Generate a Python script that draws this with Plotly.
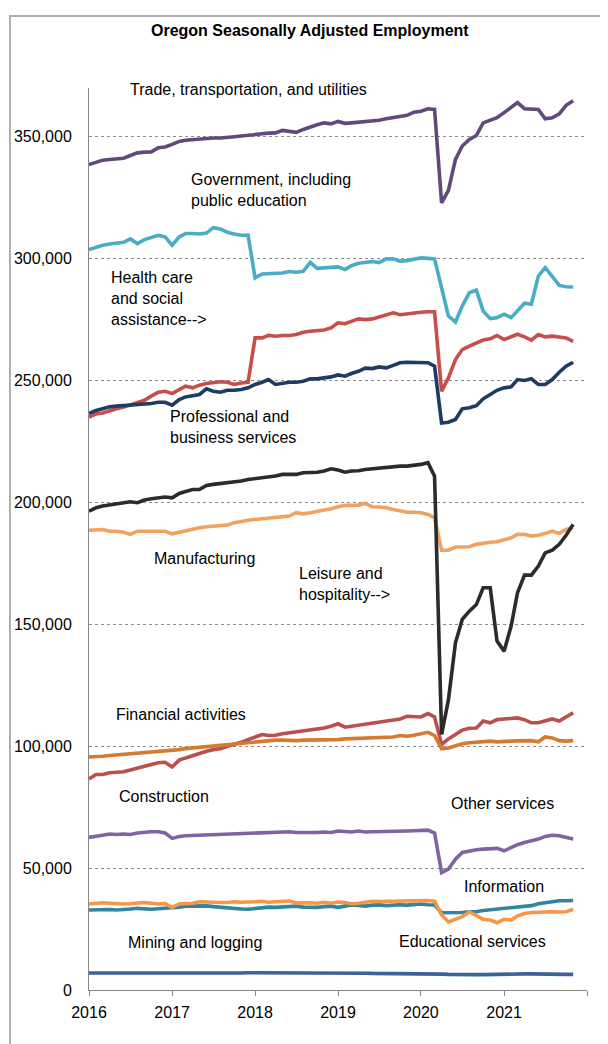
import plotly.graph_objects as go
import pandas as pd

months = pd.date_range("2016-01-01", periods=71, freq="MS")

trade = [338.6, 339.6, 340.4, 340.7, 340.8, 341.2, 342.3, 343.4, 343.7, 343.8,
         345.5, 345.8, 346.9, 348.1, 348.6, 348.9, 348.9, 349.2, 349.5, 349.5,
         349.9, 350.0, 350.3, 350.7, 351.1, 351.2, 351.5, 351.6, 352.6, 352.3,
         351.8, 353.0, 354.1, 354.9, 355.7, 355.3, 356.3, 355.5, 355.7, 356.0,
         356.4, 356.4, 356.8, 357.4, 357.8, 358.1, 358.8, 360.1, 360.5, 361.5,
         361.2, 322.9, 328.0, 340.7, 346.2, 348.9, 350.5, 355.7, 356.8, 357.8,
         359.9, 362.3, 364.0, 361.5, 361.5, 361.2, 357.4, 357.8, 359.4, 362.9, 364.8]

gov = [303.7, 304.7, 305.5, 306.0, 306.2, 306.7, 308.1, 306.2, 307.8, 308.6,
       309.6, 308.9, 305.5, 308.9, 310.3, 310.3, 310.1, 310.5, 312.7, 312.2,
       310.8, 310.1, 309.6, 309.7, 292.1, 293.7, 293.8, 294.0, 294.1, 294.7,
       294.4, 294.8, 298.5, 296.0, 296.3, 296.4, 296.6, 295.5, 297.1, 298.1,
       298.6, 298.8, 298.4, 299.9, 299.9, 299.0, 299.2, 299.6, 300.3, 300.1,
       299.9, 288.0, 276.5, 274.0, 280.6, 286.0, 287.1, 278.5, 275.4, 275.8,
       277.2, 275.8, 278.5, 281.7, 281.3, 292.9, 296.3, 292.9, 289.0, 288.5, 288.4]

health = [235.0, 236.3, 236.7, 237.7, 238.4, 239.1, 240.0, 240.8, 241.9, 243.6,
          245.2, 245.6, 244.7, 246.3, 247.7, 247.0, 248.1, 248.8, 249.0, 249.5,
          249.3, 248.4, 249.0, 249.3, 267.5, 267.5, 268.5, 268.2, 268.5, 268.5,
          268.9, 269.8, 270.2, 270.4, 270.7, 271.6, 273.7, 273.3, 274.4, 275.3,
          275.0, 275.3, 276.1, 277.1, 277.8, 277.0, 277.4, 277.8, 278.0, 278.2,
          278.2, 245.6, 251.1, 258.6, 262.7, 264.1, 265.2, 266.6, 267.1, 268.5,
          266.8, 267.9, 269.0, 267.9, 266.6, 268.9, 267.9, 268.2, 267.9, 267.5, 266.1]

prof = [236.5, 237.7, 238.4, 239.2, 239.5, 239.7, 240.2, 240.4, 240.6, 240.6,
        241.1, 241.1, 239.9, 242.2, 243.3, 243.8, 244.3, 246.6, 245.6, 245.2,
        246.0, 246.0, 246.3, 247.0, 248.4, 249.3, 250.4, 248.4, 249.0, 249.3,
        249.3, 249.7, 250.7, 250.7, 251.1, 251.5, 252.3, 251.8, 252.9, 253.8,
        255.1, 254.9, 255.6, 255.2, 256.2, 257.3, 257.5, 257.5, 257.5, 257.3,
        255.9, 232.6, 232.9, 234.0, 238.4, 238.8, 239.7, 242.5, 244.3, 246.0,
        247.0, 247.4, 250.4, 250.0, 250.7, 248.4, 248.4, 250.4, 253.4, 255.9, 257.5]

leisure = [196.4, 197.8, 198.5, 198.9, 199.2, 199.6, 200.3, 199.9, 201.0, 201.5,
           201.9, 202.2, 201.9, 203.7, 204.5, 205.3, 205.3, 207.0, 207.4, 207.7,
           208.1, 208.5, 208.8, 209.4, 209.7, 210.0, 210.4, 210.8, 211.5, 211.5,
           211.5, 212.2, 212.2, 212.4, 212.9, 213.8, 213.3, 212.4, 212.9, 213.0,
           213.5, 213.8, 214.2, 214.2, 214.5, 214.9, 214.9, 215.2, 215.6, 216.3,
           210.8, 104.8, 119.0, 142.4, 152.0, 155.4, 158.1, 165.0, 165.0, 143.1,
           139.0, 149.3, 162.9, 170.2, 170.2, 173.9, 179.3, 180.4, 182.8, 186.5, 191.0]

mfg = [188.6, 188.6, 188.9, 188.2, 188.2, 187.8, 186.9, 188.2, 188.2, 188.2,
       188.5, 188.2, 187.1, 187.8, 188.2, 188.9, 189.6, 190.0, 190.3, 190.3,
       190.7, 191.7, 192.3, 192.7, 193.0, 193.3, 193.7, 193.8, 194.0, 194.4,
       195.8, 195.3, 195.8, 196.3, 196.7, 197.4, 198.2, 198.8, 198.8, 198.9,
       199.6, 198.2, 198.1, 197.8, 197.1, 196.7, 196.0, 196.0, 195.8, 195.1,
       193.7, 180.4, 180.4, 181.7, 181.8, 181.8, 182.8, 183.4, 183.7, 183.9,
       184.8, 185.5, 186.9, 186.9, 186.2, 186.5, 187.3, 188.2, 187.3, 188.9, 189.6]

fin = [95.6, 95.6, 95.9, 96.2, 96.4, 96.7, 97.0, 97.3, 97.5, 97.7,
       97.9, 98.2, 98.4, 98.6, 99.0, 99.3, 99.6, 99.9, 100.1, 100.3,
       100.5, 100.8, 101.4, 101.6, 101.9, 102.3, 102.5, 102.5, 102.5, 102.3,
       102.3, 102.5, 102.5, 102.5, 102.5, 102.7, 102.7, 103.0, 103.1, 103.3,
       103.3, 103.4, 103.6, 103.7, 103.8, 104.4, 104.1, 104.5, 105.2, 105.7,
       104.4, 98.9, 99.3, 100.3, 101.0, 101.4, 101.6, 102.1, 102.1, 101.8,
       101.8, 102.1, 102.2, 102.2, 102.3, 101.8, 103.8, 103.4, 102.3, 102.1, 102.3]

cons = [86.6, 88.4, 88.4, 89.1, 89.3, 89.5, 90.2, 91.1, 91.8, 92.5,
        93.2, 93.4, 91.5, 94.3, 95.2, 96.2, 97.0, 97.9, 98.6, 99.0,
        100.0, 100.7, 101.6, 102.7, 103.8, 104.8, 104.4, 104.5, 105.1, 105.5,
        105.7, 106.2, 106.6, 107.1, 107.5, 108.2, 109.2, 107.8, 108.2, 108.5,
        108.9, 109.3, 109.8, 110.3, 110.7, 111.2, 112.3, 112.0, 112.0, 113.4,
        112.0, 100.7, 103.0, 104.8, 106.6, 107.4, 107.5, 110.3, 109.6, 110.9,
        111.2, 111.2, 111.6, 110.9, 109.6, 109.6, 110.3, 111.2, 110.3, 112.0, 113.7]

other = [62.6, 62.9, 63.5, 64.0, 63.8, 64.0, 63.8, 64.4, 64.8, 64.9,
         64.9, 64.4, 62.2, 63.0, 63.3, 63.4, 63.7, 63.8, 64.0, 64.1,
         64.1, 64.0, 64.1, 64.4, 64.4, 64.5, 64.5, 64.6, 64.8, 64.9,
         64.6, 64.5, 64.6, 64.6, 64.8, 64.6, 65.2, 64.8, 64.8, 65.2,
         64.8, 64.9, 64.9, 65.0, 65.0, 65.0, 65.2, 65.3, 65.6, 65.6,
         64.4, 48.2, 49.6, 53.7, 56.4, 57.1, 57.5, 57.8, 57.9, 58.1,
         57.1, 58.5, 59.6, 60.5, 61.2, 61.9, 63.0, 63.5, 63.3, 62.6, 61.9]

info = [32.8, 32.9, 33.1, 33.0, 32.8, 32.9, 33.2, 33.5, 33.3, 33.1,
        33.3, 33.5, 33.5, 34.0, 34.4, 34.5, 34.7, 34.5, 34.2, 33.9,
        33.6, 33.4, 33.2, 33.1, 33.4, 33.8, 34.0, 33.9, 34.0, 34.3,
        34.4, 34.0, 33.8, 33.9, 34.2, 34.4, 33.9, 34.5, 34.9, 34.7,
        34.4, 34.8, 34.9, 34.6, 34.9, 35.0, 34.8, 35.2, 35.3, 35.0,
        34.9, 31.7, 31.7, 31.7, 31.8, 32.1, 32.1, 32.6, 32.9, 33.1,
        33.2, 33.5, 33.7, 34.2, 34.6, 35.4, 35.9, 36.3, 36.6, 36.6, 36.7]

edu = [35.3, 35.6, 35.8, 35.6, 35.3, 35.3, 35.4, 35.6, 35.9, 35.6,
       35.3, 35.5, 33.9, 35.3, 35.5, 35.6, 36.2, 36.0, 35.8, 35.9,
       35.9, 36.2, 36.0, 36.0, 36.2, 36.4, 36.0, 36.2, 36.3, 36.5,
       35.7, 35.9, 35.8, 35.6, 36.0, 35.6, 36.1, 35.9, 35.4, 35.6,
       36.1, 36.4, 36.3, 36.4, 36.4, 36.5, 36.6, 36.6, 36.6, 36.7,
       36.4, 30.8, 27.9, 29.0, 30.1, 32.1, 30.4, 29.0, 28.7, 27.6,
       29.0, 28.7, 30.4, 31.4, 31.8, 32.0, 32.1, 32.1, 32.0, 32.1, 33.1]

mining = [7.0, 7.0, 7.0, 6.9, 6.9, 6.9, 6.9, 6.9, 6.8, 6.8,
          6.8, 6.8, 6.8, 6.7, 6.8, 6.9, 6.9, 6.9, 6.8, 6.8,
          6.9, 6.9, 7.0, 7.1, 7.1, 7.1, 7.2, 7.2, 7.2, 7.2,
          7.1, 7.1, 7.0, 7.0, 7.0, 7.0, 7.0, 7.0, 6.9, 6.9,
          6.9, 6.8, 6.8, 6.8, 6.7, 6.7, 6.7, 6.6, 6.6, 6.6,
          6.6, 6.5, 6.4, 6.3, 6.3, 6.4, 6.3, 6.3, 6.4, 6.5,
          6.5, 6.5, 6.5, 6.6, 6.6, 6.5, 6.5, 6.5, 6.5, 6.4, 6.4]

series = [
    ("Mining and logging", mining, "#3A6399"),
    ("Information", info, "#31859C"),
    ("Educational services", edu, "#F79646"),
    ("Other services", other, "#8064A2"),
    ("Construction", cons, "#B9504C"),
    ("Financial activities", fin, "#D57B30"),
    ("Manufacturing", mfg, "#F0A262"),
    ("Health care and social assistance", health, "#C84E4A"),
    ("Professional and business services", prof, "#1F3B63"),
    ("Government, including public education", gov, "#4BACC6"),
    ("Trade, transportation, and utilities", trade, "#604A7B"),
    ("Leisure and hospitality", leisure, "#2B2B2B"),
]

year_ticks = ["2016", "2017", "2018", "2019", "2020", "2021", ""]
year_vals = [f"{y}-01-01" if y else "2022-01-01" for y in year_ticks]
y_ticks = [0, 50000, 100000, 150000, 200000, 250000, 300000, 350000]

fig = go.Figure()
for name, vals, color in series:
    fig.add_trace(go.Scatter(
        x=months, y=[v * 1000 for v in vals], name=name, mode="lines",
        line=dict(color=color, width=3.6), hoverinfo="skip"))

# page body has an 8px default margin; work in window pixels and offset
OFF = 8
W, H = 608 - OFF, 1044 - OFF
L, R, T, B = 89, 587, 88, 990  # plot area in window pixels


def px(x):
    return (x - L) / (R - L)


def py(y):
    return (B - y) / (B - T)


FONT = "Arial, Liberation Sans, sans-serif"
FS = 16
labels = [
    ("Trade, transportation, and utilities", 128, 90),
    ("Government, including<br>public education", 189, 189.5),
    ("Health care<br>and social<br>assistance-->", 109, 298.5),
    ("Professional and<br>business services", 168, 427.5),
    ("Manufacturing", 152, 558),
    ("Leisure and<br>hospitality-->", 297, 583.5),
    ("Financial activities", 114, 714),
    ("Construction", 117, 796),
    ("Other services", 449, 803),
    ("Information", 462, 886),
    ("Mining and logging", 126, 942),
    ("Educational services", 397, 941),
]
annotations = []
for text, lx, cy in labels:
    annotations.append(dict(
        text=text, x=px(lx), y=py(cy), xref="paper", yref="paper",
        xanchor="left", yanchor="middle", align="left", showarrow=False,
        font=dict(family=FONT, size=FS, color="#000000")))
annotations.append(dict(
    text="<b>Oregon Seasonally Adjusted Employment</b>", x=px(310), y=py(31),
    xref="paper", yref="paper", xanchor="center", yanchor="middle",
    showarrow=False, font=dict(family=FONT, size=16, color="#000000")))

fig.update_layout(
    width=W, height=H,
    margin=dict(l=L - OFF, r=(W + OFF) - R, t=T - OFF, b=(H + OFF) - B, pad=0),
    paper_bgcolor="white", plot_bgcolor="white",
    showlegend=False,
    annotations=annotations,
    shapes=[dict(type="rect", xref="paper", yref="paper",
                 x0=px(10), x1=px(650), y0=py(1080), y1=py(16),
                 line=dict(color="#AFAFAF", width=2), fillcolor="rgba(0,0,0,0)")],
    xaxis=dict(
        range=["2016-01-01", "2022-01-01"], tickvals=year_vals, ticktext=year_ticks,
        automargin=False,
        showgrid=False, zeroline=False, showline=True, linecolor="#868686", linewidth=1,
        ticks="outside", ticklen=5, tickcolor="#868686", ticklabelstandoff=3,
        tickfont=dict(family=FONT, size=FS, color="#000000")),
    yaxis=dict(
        range=[0, 370000], tickvals=y_ticks,
        ticktext=[f"{v:,}" for v in y_ticks],
        automargin=False,
        showgrid=True, gridcolor="#8C8C8C", griddash="dot", gridwidth=1,
        zeroline=False, showline=True, linecolor="#868686", linewidth=1,
        ticks="", ticklabelstandoff=13,
        tickfont=dict(family=FONT, size=FS, color="#000000")),
)

fig.write_html("out.html")
